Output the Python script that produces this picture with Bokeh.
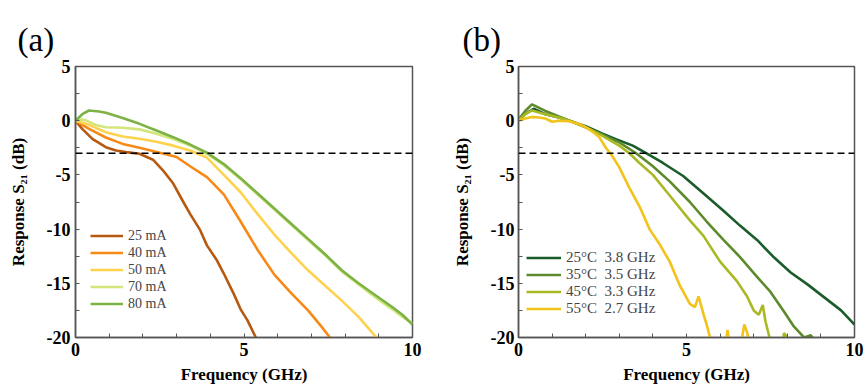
from bokeh.plotting import figure
from bokeh.layouts import row
from bokeh.models import Range1d, FixedTicker, Legend, LegendItem, Span
from bokeh.embed import file_html
from bokeh.resources import INLINE

# ---------------- Panel (a): bias current ----------------
f_25mA = [0, 0.2, 0.5, 0.9, 1.2, 1.5, 1.9, 2.3, 2.6, 2.9, 3.2, 3.4, 3.7, 3.9, 4.2, 4.4, 4.7, 4.9, 5.1, 5.35, 5.5]
s_25mA = [0, -0.75, -1.67, -2.44, -2.75, -2.9, -3.05, -3.6, -4.6, -5.8, -7.5, -8.6, -10.1, -11.5, -12.9, -14.1, -16.0, -17.4, -18.4, -20.0, -21.0]

f_40mA = [0, 0.4, 0.9, 1.4, 1.9, 2.5, 3.0, 3.4, 3.9, 4.4, 4.9, 5.4, 5.9, 6.4, 6.9, 7.3, 7.55, 7.7]
s_40mA = [0, -0.75, -1.55, -2.14, -2.5, -2.95, -3.35, -4.2, -5.2, -6.8, -9.3, -11.9, -14.2, -15.9, -17.5, -19.0, -20.0, -21.0]

f_50mA = [0, 0.4, 0.9, 1.4, 1.9, 2.4, 2.9, 3.4, 3.9, 4.4, 4.9, 5.4, 5.9, 6.4, 6.9, 7.4, 7.9, 8.4, 8.9, 9.1]
s_50mA = [0, -0.38, -1.06, -1.46, -1.67, -1.95, -2.3, -2.75, -3.4, -5.0, -6.6, -8.6, -10.5, -12.2, -13.8, -15.2, -16.6, -18.1, -19.9, -21.0]

f_70mA = [0, 0.15, 0.3, 0.6, 0.9, 1.4, 1.9, 2.4, 2.9, 3.4, 3.9, 4.4, 4.9, 5.4, 5.9, 6.4, 6.9, 7.4, 7.9, 8.4, 8.9, 9.4, 9.7, 10]
s_70mA = [0, 0.1, 0.05, -0.4, -0.6, -0.65, -0.8, -1.2, -1.7, -2.3, -3.05, -4.1, -5.4, -6.8, -8.2, -9.6, -11.0, -12.4, -13.9, -15.1, -16.3, -17.4, -18.1, -18.7]

f_80mA = [0, 0.2, 0.4, 0.7, 0.9, 1.4, 1.9, 2.4, 2.9, 3.4, 3.9, 4.4, 4.9, 5.4, 5.9, 6.4, 6.9, 7.4, 7.9, 8.4, 8.9, 9.4, 9.7, 10]
s_80mA = [0, 0.6, 0.94, 0.85, 0.73, 0.25, -0.29, -0.9, -1.52, -2.2, -2.95, -4.0, -5.3, -6.7, -8.1, -9.5, -10.9, -12.3, -13.8, -15.0, -16.1, -17.2, -17.9, -18.8]

labels_a = ["25 mA", "40 mA", "50 mA", "70 mA", "80 mA"]
colors_a = ["#B65A12", "#F78A17", "#FFD24E", "#D3E67C", "#7DB346"]

# ---------------- Panel (b): temperature ----------------
f_25C = [0, 0.2, 0.45, 0.8, 1.2, 1.6, 2.0, 2.5, 2.9, 3.4, 3.8, 4.3, 4.9, 5.5, 6.1, 6.6, 7.1, 7.6, 8.1, 8.6, 9.1, 9.6, 10]
s_25C = [0.1, 0.6, 1.1, 0.6, 0.3, -0.1, -0.5, -1.2, -1.7, -2.3, -3.0, -3.9, -5.1, -6.7, -8.3, -9.7, -11.0, -12.6, -14.0, -15.1, -16.3, -17.5, -18.8]

f_35C = [0, 0.2, 0.4, 0.8, 1.2, 1.6, 2.0, 2.5, 3.0, 3.5, 4.0, 4.5, 5.1, 5.6, 6.1, 6.6, 7.1, 7.5, 7.9, 8.2, 8.5, 8.7, 8.8, 8.9]
s_35C = [0.1, 0.9, 1.5, 0.9, 0.4, -0.1, -0.6, -1.3, -2.0, -3.0, -4.2, -5.6, -7.5, -9.3, -11.0, -12.6, -14.4, -15.8, -17.6, -19.0, -20.0, -19.8, -20.2, -21.0]

f_45C = [0, 0.2, 0.4, 0.8, 1.2, 1.6, 2.0, 2.5, 3.0, 3.3, 3.6, 4.0, 4.5, 5.1, 5.5, 6.0, 6.5, 6.8, 7.0, 7.15, 7.27, 7.35, 7.47, 7.6, 7.85, 7.9, 7.95, 8.0, 8.1]
s_45C = [0.0, 0.6, 0.95, 0.6, 0.3, -0.1, -0.6, -1.4, -2.3, -3.0, -3.9, -5.0, -6.9, -9.2, -10.6, -13.0, -14.8, -16.2, -17.5, -17.9, -17.0, -18.5, -20.0, -21.0, -21.0, -19.6, -19.8, -20.3, -21.0]

f_55C = [0, 0.2, 0.4, 0.6, 0.8, 1.0, 1.2, 1.5, 1.8, 2.0, 2.2, 2.4, 2.6, 2.8, 3.0, 3.3, 3.6, 3.9, 4.2, 4.5, 4.8, 5.1, 5.25, 5.36, 5.5, 5.6, 5.7, 5.9, 6.15, 6.22, 6.3, 6.6, 6.72, 6.8, 6.9]
s_55C = [0.0, 0.2, 0.35, 0.3, 0.2, -0.1, 0.0, -0.05, -0.3, -0.6, -1.0, -1.5, -2.5, -3.3, -4.3, -6.2, -7.9, -10.0, -11.4, -13.0, -15.2, -16.9, -17.2, -16.2, -17.8, -18.8, -20.0, -21.0, -21.0, -19.3, -21.0, -21.0, -18.8, -19.5, -21.0]

labels_b = ["25\u00b0C  3.8 GHz", "35\u00b0C  3.5 GHz", "45\u00b0C  3.3 GHz", "55\u00b0C  2.7 GHz"]
colors_b = ["#1B5C2B", "#5D8B2C", "#A9B924", "#F2C31B"]

x_major = [0, 5, 10]
x_minor = [1, 2, 3, 4, 6, 7, 8, 9]
y_major = [-20, -15, -10, -5, 0, 5]
y_minor = [-17.5, -12.5, -7.5, -2.5, 2.5]
cutoff_db = -3

FONT = "Liberation Serif"


def make_panel(width, left, right, series, labels, colors, tag, tag_offset, legend_loc, legend_font, glyph_w, standoff):
    p = figure(width=width, height=390, output_backend="svg", toolbar_location=None,
               x_range=Range1d(0, 10), y_range=Range1d(-20, 5),
               min_border_left=left, min_border_right=right, min_border_top=66, min_border_bottom=53)
    p.grid.visible = False
    p.outline_line_color = "#555555"
    p.outline_line_width = 1.5
    p.background_fill_color = "white"
    p.border_fill_color = "white"

    p.title.text = tag
    p.title.text_font = FONT
    p.title.text_font_size = "33px"
    p.title.text_font_style = "normal"
    p.title.text_color = "black"
    p.title.align = "left"
    p.title.vertical_align = "top"
    p.title.offset = tag_offset
    p.title.standoff = 13

    p.xaxis.ticker = FixedTicker(ticks=x_major, minor_ticks=x_minor)
    p.yaxis.ticker = FixedTicker(ticks=y_major, minor_ticks=y_minor)
    p.yaxis.major_label_overrides = {v: str(v) for v in y_major}
    p.xaxis.major_label_overrides = {v: str(v) for v in x_major}
    for ax in (p.xaxis, p.yaxis):
        ax.axis_line_color = "#555555"
        ax.axis_line_width = 1.5
        ax.major_tick_in = 4
        ax.major_tick_out = 0
        ax.minor_tick_in = 4
        ax.minor_tick_out = 0
        ax.major_tick_line_color = "#555555"
        ax.minor_tick_line_color = "#555555"
        ax.major_label_text_font = FONT
        ax.major_label_text_font_style = "bold"
        ax.major_label_text_font_size = "18px"
        ax.major_label_text_color = "black"
        ax.axis_label_text_font = FONT
        ax.axis_label_text_font_style = "bold"
        ax.axis_label_text_font_size = "17px"
        ax.axis_label_text_color = "black"
    p.xaxis.axis_label = "Frequency (GHz)"
    p.yaxis.axis_label = "Response S\u2082\u2081 (dB)"
    p.xaxis.major_label_standoff = 5
    p.yaxis.major_label_standoff = standoff
    p.xaxis.axis_label_standoff = 6
    p.yaxis.axis_label_standoff = 16

    p.add_layout(Span(location=cutoff_db, dimension="width", line_color="black",
                      line_width=1.5, line_dash="7 4"))

    items = []
    for (fx, sy), lab, col in zip(series, labels, colors):
        r = p.line(fx, sy, line_color=col, line_width=2.6)
        items.append(LegendItem(label=lab, renderers=[r]))

    leg = Legend(items=items, location=legend_loc, padding=0, margin=0, spacing=0,
                 glyph_width=glyph_w, glyph_height=17, label_height=17, label_standoff=5,
                 label_text_font=FONT, label_text_font_size=legend_font,
                 border_line_color=None, background_fill_alpha=0)
    p.add_layout(leg, "center")
    return p


pa = make_panel(433, 75, 21,
                [(f_25mA, s_25mA), (f_40mA, s_40mA), (f_50mA, s_50mA), (f_70mA, s_70mA), (f_80mA, s_80mA)],
                labels_a, colors_a, "(a)", -58, (15, 25), "14px", 33, 5)
pb = make_panel(432, 85, 11,
                [(f_25C, s_25C), (f_35C, s_35C), (f_45C, s_45C), (f_55C, s_55C)],
                labels_b, colors_b, "(b)", -56, (8, 20), "15px", 35, 4)

layout = row(pa, pb)
open("out.html", "w").write(file_html(layout, INLINE))
